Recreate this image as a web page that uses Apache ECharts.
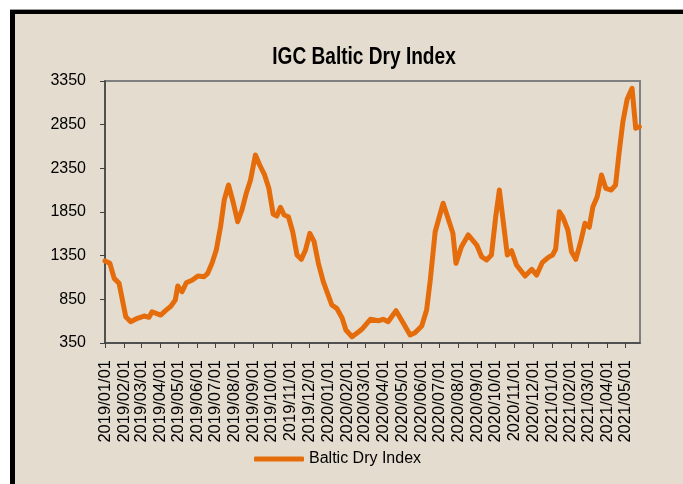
<!DOCTYPE html>
<html>
<head>
<meta charset="utf-8">
<script src="https://cdn.jsdelivr.net/npm/echarts@6/dist/echarts.min.js"></script>
<style>
  html, body { margin: 0; padding: 0; background: #fff; }
  #chart { width: 683px; height: 484px; }
</style>
</head>
<body>
<div id="chart"></div>
<script>
// weekly-ish readings of the Baltic Dry Index
var dates = [
  '2019-01-01','2019-01-09','2019-01-16','2019-01-24','2019-02-04','2019-02-12','2019-02-23',
  '2019-03-06','2019-03-14','2019-03-19','2019-04-02','2019-04-10','2019-04-18','2019-04-26',
  '2019-04-30','2019-05-07','2019-05-14','2019-05-24','2019-06-02','2019-06-12','2019-06-18',
  '2019-06-25','2019-07-02','2019-07-09','2019-07-15','2019-07-22','2019-07-30','2019-08-06',
  '2019-08-13','2019-08-20','2019-08-27','2019-09-04','2019-09-11','2019-09-19','2019-09-26',
  '2019-10-03','2019-10-09','2019-10-15','2019-10-21','2019-10-28','2019-11-04','2019-11-11',
  '2019-11-18','2019-11-25','2019-12-02','2019-12-09','2019-12-16','2019-12-24','2019-12-31',
  '2020-01-07','2020-01-15','2020-01-24','2020-01-30','2020-02-09','2020-02-20','2020-02-25',
  '2020-03-10','2020-03-23','2020-03-31','2020-04-08','2020-04-21','2020-05-03','2020-05-14',
  '2020-05-22','2020-06-02','2020-06-10','2020-06-16','2020-06-24','2020-07-07','2020-07-15',
  '2020-07-23','2020-07-28','2020-08-06','2020-08-17','2020-08-31','2020-09-08','2020-09-16',
  '2020-09-24','2020-10-01','2020-10-07','2020-10-13','2020-10-20','2020-10-27','2020-11-04',
  '2020-11-18','2020-11-29','2020-12-07','2020-12-16','2020-12-26','2021-01-02','2021-01-07',
  '2021-01-13','2021-01-19','2021-01-27','2021-02-02','2021-02-09','2021-02-17','2021-02-24',
  '2021-03-03','2021-03-09','2021-03-16','2021-03-23','2021-03-30','2021-04-08','2021-04-15',
  '2021-04-21','2021-04-27','2021-05-04','2021-05-12','2021-05-18','2021-05-24'
];
var bdi = [
  1290,1262,1090,1033,651,594,633,
  659,644,708,670,720,766,842,
  1003,937,1040,1071,1117,1109,1148,
  1262,1415,1682,1987,2159,1950,1739,
  1873,2064,2216,2503,2388,2274,2121,
  1827,1804,1904,1816,1796,1624,1358,
  1308,1415,1606,1510,1262,1052,919,
  785,747,633,499,422,479,507,
  621,605,621,594,720,575,442,
  468,545,728,1071,1624,1950,1778,
  1606,1262,1453,1587,1472,1338,1300,
  1358,1796,2102,1758,1358,1407,1243,
  1117,1194,1128,1269,1331,1358,1423,
  1853,1789,1644,1395,1308,1510,1721,
  1675,1911,2025,2274,2121,2102,2159,
  2540,2884,3140,3266,2808,2827
];
var seriesName = 'Baltic Dry Index';
var chartTitle = 'IGC Baltic Dry Index';

var points = [];
for (var i = 0; i < dates.length; i++) {
  points.push([dates[i], bdi[i]]);
}

var FONT = "'Liberation Sans', Arial, sans-serif";
var DAY = 24 * 3600 * 1000;

var myChart = echarts.init(document.getElementById('chart'));
var option = {
  backgroundColor: '#ffffff',
  animation: false,
  textStyle: { fontFamily: FONT },
  graphic: [
    // beige card with black top/left edge
    { type: 'rect', z: -10, shape: { x: 15, y: 14, width: 668, height: 470 }, style: { fill: '#e4dccf' } },
    { type: 'rect', z: -9, shape: { x: 10, y: 9, width: 673, height: 1 }, style: { fill: '#9a9a9a' } },
    { type: 'rect', z: -9, shape: { x: 10, y: 10, width: 673, height: 4 }, style: { fill: '#000' } },
    { type: 'rect', z: -9, shape: { x: 10, y: 10, width: 5, height: 474 }, style: { fill: '#000' } },
    // title, a bit condensed like the original
    {
      type: 'text',
      x: 364,
      y: 46,
      scaleX: 0.83,
      style: {
        text: chartTitle,
        fill: '#000',
        font: 'bold 23px ' + FONT,
        textAlign: 'center',
        textVerticalAlign: 'top'
      }
    }
  ],
  grid: {
    left: 105,
    top: 81,
    right: 43,
    bottom: 141,
    show: true,
    borderColor: '#808080',
    borderWidth: 2,
    backgroundColor: 'transparent'
  },
  legend: {
    left: 254,
    top: 451,
    padding: 0,
    icon: 'roundRect',
    itemWidth: 50,
    itemHeight: 5,
    textStyle: { fontSize: 16, color: '#000', fontFamily: FONT },
    data: [seriesName]
  },
  xAxis: {
    type: 'time',
    min: '2019-01-01',
    max: '2021-05-25',
    minInterval: 28 * DAY,
    maxInterval: 31 * DAY,
    splitLine: { show: false },
    axisLine: { lineStyle: { color: '#404040', width: 1.5 } },
    axisTick: { show: true, length: 5, lineStyle: { color: '#404040' } },
    minorTick: { show: false },
    axisLabel: {
      rotate: 90,
      margin: 17,
      fontSize: 16.5,
      color: '#000',
      fontFamily: FONT,
      formatter: '{yyyy}/{MM}/{dd}',
      showMaxLabel: false
    }
  },
  yAxis: {
    type: 'value',
    min: 350,
    max: 3350,
    interval: 500,
    splitLine: { show: false },
    axisLine: { show: true, lineStyle: { color: '#404040', width: 1.5 } },
    axisTick: { show: true, length: 5, lineStyle: { color: '#404040' } },
    axisLabel: {
      fontSize: 16,
      color: '#000',
      margin: 19,
      fontFamily: FONT,
      formatter: function (v) { return String(v); }
    }
  },
  series: [{
    name: seriesName,
    type: 'line',
    data: points,
    showSymbol: false,
    symbol: 'none',
    color: '#e46c0a',
    lineStyle: { width: 5, color: '#e46c0a', cap: 'round', join: 'round' }
  }]
};
myChart.setOption(option);
</script>
</body>
</html>
